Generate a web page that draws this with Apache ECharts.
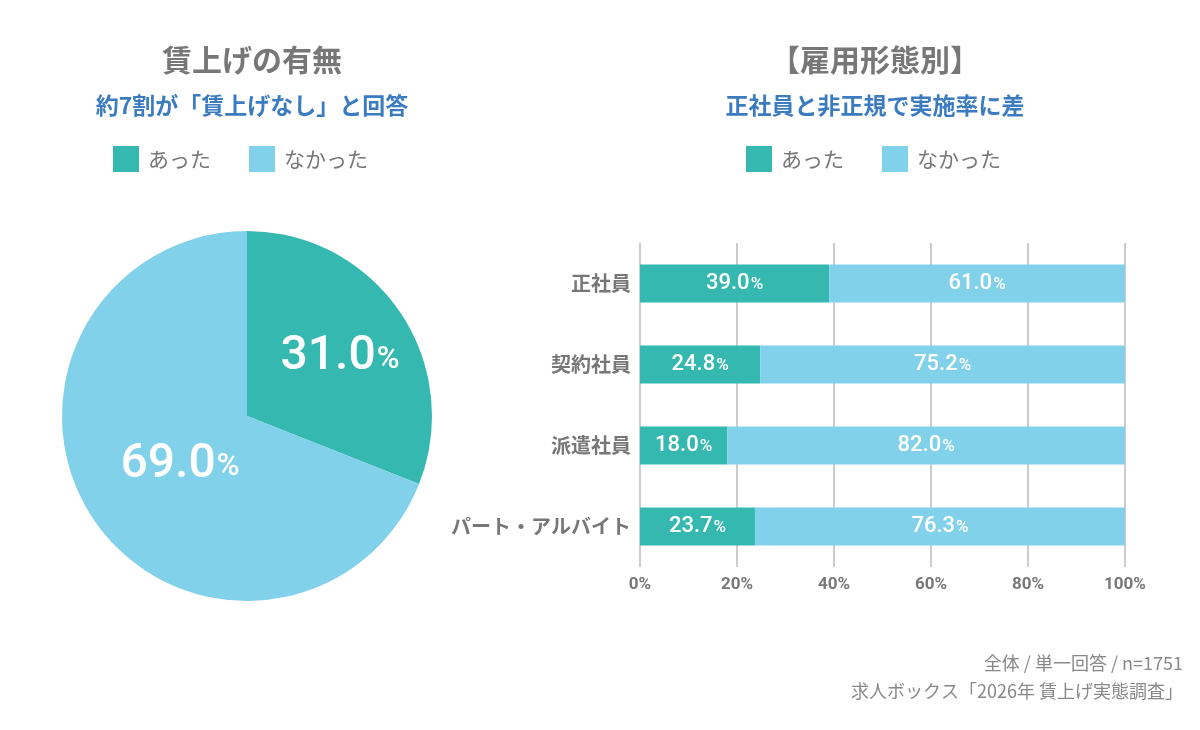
<!DOCTYPE html>
<html>
<head>
<meta charset="utf-8">
<script src="https://cdn.jsdelivr.net/npm/echarts@6/dist/echarts.min.js"></script>
<style>
    html, body { margin: 0; padding: 0; background: #fff; }
    #chart { width: 1200px; height: 730px; }
</style>
</head>
<body>
<div id="chart"></div>
<script>
// 賃上げの有無 - 円グラフ + 雇用形態別の積み上げ棒
const pieNames = ['あった', 'なかった'];
const pieValues = [31.0, 69.0];

const categories = ['正社員', '契約社員', '派遣社員', 'パート・アルバイト'];
const hadRaise = [39.0, 24.8, 18.0, 23.7];
const noRaise = [61.0, 75.2, 82.0, 76.3];

const TEAL = '#35b8b0';
const SKY = '#82d1ea';
const GRAY = '#777777';
const BLUE = '#3b7bc0';
const JP = "'Noto Sans CJK JP', 'Noto Sans', sans-serif";
const NUM = "Roboto, 'Noto Sans CJK JP', sans-serif";

const chart = echarts.init(document.getElementById('chart'));

function pctLabel(big, small) {
    return {
        formatter: p => `{n|${p.value.toFixed(1)}}{p|%}`,
        rich: {
            n: { fontFamily: NUM, fontSize: big, fontWeight: 500, color: '#fff' },
            p: { fontFamily: NUM, fontSize: small, fontWeight: 500, color: '#fff', padding: [big * 0.12, 0, 0, 1] }
        }
    };
}

const legendBase = {
    data: pieNames,
    top: 141,
    itemWidth: 26,
    itemHeight: 26,
    itemGap: 38,
    icon: 'rect',
    selectedMode: false,
    textStyle: { fontFamily: JP, fontSize: 21, color: GRAY, padding: [0, 0, 0, 4] }
};

// 円グラフのラベル位置を少し外側へ
const pieOffsets = [[14, -5], [12, -5]];

chart.setOption({
    animation: false,
    title: [
        { text: '賃上げの有無', left: 247, top: 40, textAlign: 'center',
          textStyle: { fontFamily: JP, fontSize: 30, fontWeight: 'bold', color: GRAY } },
        { text: '約7割が「賃上げなし」と回答', left: 247, top: 89, textAlign: 'center',
          textStyle: { fontFamily: JP, fontSize: 23, fontWeight: 'bold', color: BLUE } },
        { text: '【雇用形態別】', left: 870, top: 40, textAlign: 'center',
          textStyle: { fontFamily: JP, fontSize: 30, fontWeight: 'bold', color: GRAY } },
        { text: '正社員と非正規で実施率に差', left: 870, top: 89, textAlign: 'center',
          textStyle: { fontFamily: JP, fontSize: 23, fontWeight: 'bold', color: BLUE } }
    ],
    legend: [
        Object.assign({}, legendBase, { left: 108 }),
        Object.assign({}, legendBase, { left: 741 })
    ],
    grid: { left: 640, right: 75, top: 243, height: 324, containLabel: false },
    xAxis: {
        type: 'value',
        min: 0,
        max: 100,
        interval: 20,
        axisLine: { show: false },
        axisTick: { show: false },
        splitLine: { show: true, lineStyle: { color: '#cccccc', width: 2 } },
        axisLabel: {
            formatter: '{value}%',
            margin: 9,
            fontFamily: NUM, fontSize: 17, fontWeight: 'bold', color: GRAY
        }
    },
    yAxis: {
        type: 'category',
        data: categories,
        inverse: true,
        axisLine: { show: false },
        axisTick: { show: false },
        axisLabel: { margin: 9, fontFamily: JP, fontSize: 20, fontWeight: 'bold', color: GRAY }
    },
    series: [
        {
            type: 'pie',
            radius: 185,
            center: [247, 416],
            startAngle: 90,
            clockwise: true,
            color: [TEAL, SKY],
            itemStyle: { borderWidth: 0 },
            label: Object.assign({ show: true, position: 'inside' }, pctLabel(48, 31)),
            labelLine: { show: false },
            emphasis: { disabled: true },
            data: pieNames.map((n, i) => ({ name: n, value: pieValues[i], label: { offset: pieOffsets[i] } }))
        },
        {
            name: 'あった',
            type: 'bar',
            stack: 'all',
            barWidth: 38,
            itemStyle: { color: TEAL },
            label: Object.assign({ show: true, position: 'inside' }, pctLabel(22, 17)),
            emphasis: { disabled: true },
            data: hadRaise
        },
        {
            name: 'なかった',
            type: 'bar',
            stack: 'all',
            barWidth: 38,
            itemStyle: { color: SKY },
            label: Object.assign({ show: true, position: 'inside' }, pctLabel(22, 17)),
            emphasis: { disabled: true },
            data: noRaise
        }
    ],
    graphic: [
        {
            type: 'text',
            right: 17,
            top: 649,
            style: {
                text: '全体 / 単一回答 / n=1751\n求人ボックス「2026年 賃上げ実態調査」',
                textAlign: 'right',
                lineHeight: 28,
                font: "18px 'Noto Sans CJK JP', sans-serif",
                fill: '#888888'
            }
        }
    ]
});

window.addEventListener('resize', () => chart.resize());
</script>
</body>
</html>
